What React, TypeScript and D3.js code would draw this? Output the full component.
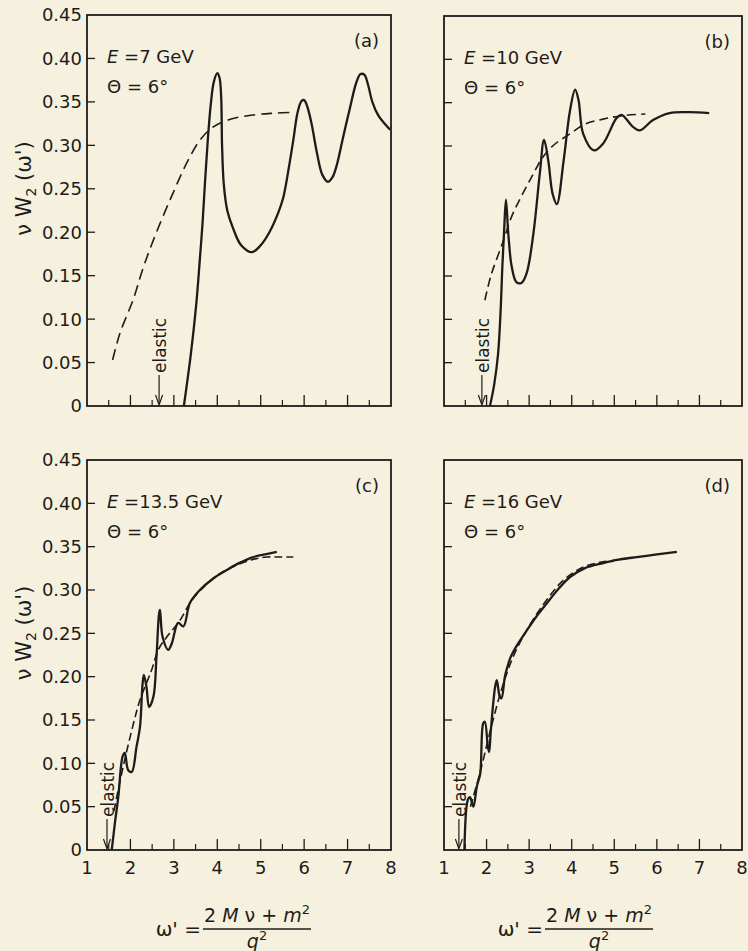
import { useEffect, useRef } from "react";
import * as d3 from "d3";

type Pt = [number, number];

// axis ticks
const yTicks = [0, 0.05, 0.1, 0.15, 0.2, 0.25, 0.3, 0.35, 0.4, 0.45];
const yTickLabels = ["0", "0.05", "0.10", "0.15", "0.20", "0.25", "0.30", "0.35", "0.40", "0.45"];
const xTicks = [1, 2, 3, 4, 5, 6, 7, 8];
const xMinorTicks = [1.5, 2.5, 3.5, 4.5, 5.5, 6.5, 7.5];

// (a) E = 7 GeV
const solidA: Pt[] = [
  [3.23, 0], [3.3, 0.025], [3.38, 0.055], [3.46, 0.09], [3.53, 0.125], [3.6, 0.17],
  [3.66, 0.21], [3.72, 0.26], [3.78, 0.305], [3.85, 0.347], [3.92, 0.373], [4.0, 0.383],
  [4.05, 0.378], [4.09, 0.355], [4.11, 0.3], [4.15, 0.255], [4.23, 0.225], [4.36, 0.205],
  [4.55, 0.185], [4.8, 0.177], [5.0, 0.185], [5.2, 0.2], [5.4, 0.222], [5.52, 0.24],
  [5.65, 0.275], [5.75, 0.306], [5.85, 0.338], [5.94, 0.351], [6.0, 0.352], [6.07, 0.345],
  [6.17, 0.325], [6.3, 0.29], [6.42, 0.266], [6.55, 0.258], [6.65, 0.263], [6.75, 0.277],
  [6.9, 0.31], [7.06, 0.344], [7.2, 0.372], [7.3, 0.382], [7.39, 0.381], [7.47, 0.37],
  [7.57, 0.35], [7.7, 0.335], [7.85, 0.325], [7.98, 0.318],
];
const dashedA: Pt[] = [
  [1.59, 0.053], [1.76, 0.084], [2.06, 0.122], [2.3, 0.16], [2.6, 0.2], [2.98, 0.245],
  [3.3, 0.28], [3.6, 0.306], [3.9, 0.321], [4.3, 0.33], [4.83, 0.335], [5.3, 0.337],
  [5.75, 0.338],
];

// (b) E = 10 GeV
const solidB: Pt[] = [
  [2.08, 0], [2.18, 0.025], [2.27, 0.06], [2.33, 0.11], [2.37, 0.16], [2.41, 0.2],
  [2.455, 0.238], [2.51, 0.199], [2.59, 0.161], [2.7, 0.143], [2.82, 0.142], [2.94, 0.153],
  [3.1, 0.199], [3.25, 0.268], [3.35, 0.307], [3.45, 0.283], [3.55, 0.245], [3.65, 0.233],
  [3.81, 0.283], [3.96, 0.341], [4.08, 0.365], [4.16, 0.353], [4.27, 0.314], [4.52, 0.295],
  [4.74, 0.303], [5.05, 0.332], [5.17, 0.336], [5.44, 0.322], [5.6, 0.318], [5.91, 0.33],
  [6.3, 0.338], [6.77, 0.339], [7.23, 0.338],
];
const dashedB: Pt[] = [
  [1.96, 0.122], [2.1, 0.15], [2.39, 0.19], [2.6, 0.22], [2.85, 0.245], [3.1, 0.268],
  [3.32, 0.287], [3.6, 0.302], [3.96, 0.314], [4.3, 0.325], [4.74, 0.331], [5.2, 0.335],
  [5.73, 0.337],
];

// (c) E = 13.5 GeV
const solidC: Pt[] = [
  [1.57, 0], [1.64, 0.03], [1.72, 0.061], [1.82, 0.108], [1.87, 0.112], [1.95, 0.092],
  [2.03, 0.09], [2.14, 0.119], [2.22, 0.142], [2.28, 0.192], [2.31, 0.202], [2.37, 0.188],
  [2.43, 0.165], [2.53, 0.177], [2.6, 0.223], [2.66, 0.273], [2.68, 0.277], [2.74, 0.246],
  [2.87, 0.231], [2.95, 0.238], [3.1, 0.262], [3.22, 0.258], [3.37, 0.285], [3.6, 0.3],
  [3.9, 0.313], [4.22, 0.323], [4.5, 0.331], [4.83, 0.338], [5.1, 0.341], [5.37, 0.344],
];
const dashedC: Pt[] = [
  [1.62, 0.045], [1.68, 0.06], [1.85, 0.1], [2.07, 0.146], [2.22, 0.173], [2.49, 0.208],
  [2.64, 0.231], [2.84, 0.246], [3.14, 0.265], [3.37, 0.285], [3.6, 0.299], [4.0, 0.317],
  [4.37, 0.327], [4.8, 0.335], [5.14, 0.338], [5.45, 0.338], [5.75, 0.338],
];

// (d) E = 16 GeV
const solidD: Pt[] = [
  [1.48, 0], [1.56, 0.058], [1.61, 0.061], [1.69, 0.05], [1.77, 0.073], [1.85, 0.088],
  [1.92, 0.146], [1.96, 0.148], [2.03, 0.119], [2.06, 0.113], [2.1, 0.138], [2.2, 0.188],
  [2.24, 0.196], [2.31, 0.177], [2.35, 0.175], [2.43, 0.2], [2.5, 0.213], [2.56, 0.222],
  [2.7, 0.235], [2.9, 0.25], [3.15, 0.268], [3.42, 0.285], [3.7, 0.302], [3.96, 0.315],
  [4.3, 0.325], [4.74, 0.331], [5.1, 0.335], [5.53, 0.338], [6.0, 0.341], [6.47, 0.344],
];
const dashedD: Pt[] = [
  [1.62, 0.05], [1.85, 0.09], [2.1, 0.14], [2.35, 0.185], [2.6, 0.22], [2.9, 0.25],
  [3.3, 0.281], [3.8, 0.311], [4.3, 0.327], [4.8, 0.333], [5.3, 0.336],
];

const panels = [
  { tag: "(a)", energy: "=7 GeV", solid: solidA, dashed: dashedA, elastic: 2.66,
    box: { l: 87, r: 391, t: 15, b: 406 }, yLabels: true, xLabels: false, dash: "11,6", titleX: 0 },
  { tag: "(b)", energy: "=10 GeV", solid: solidB, dashed: dashedB, elastic: 1.89,
    box: { l: 444, r: 742, t: 16, b: 406 }, yLabels: false, xLabels: false, dash: "9,5", titleX: 0 },
  { tag: "(c)", energy: "=13.5 GeV", solid: solidC, dashed: dashedC, elastic: 1.46,
    box: { l: 87, r: 391, t: 460, b: 850 }, yLabels: true, xLabels: true, dash: "8,4", titleX: 257 },
  { tag: "(d)", energy: "=16 GeV", solid: solidD, dashed: dashedD, elastic: 1.35,
    box: { l: 444, r: 742, t: 460, b: 850 }, yLabels: false, xLabels: true, dash: "8,4", titleX: 599 },
];

const W = 748;
const H = 951;
const ink = "#1d1c1a";
const paper = "#f6f1de";
const font = "'DejaVu Sans', sans-serif";

const App = () => {
  const svgRef = useRef<SVGSVGElement | null>(null);

  useEffect(() => {
    document.body.style.margin = "0";
    const svg = d3.select(svgRef.current);
    svg.selectAll("*").remove();

    svg.append("rect").attr("width", W).attr("height", H).attr("fill", paper);

    panels.forEach((p) => {
      const { l, r, t, b } = p.box;
      const x = d3.scaleLinear().domain([1, 8]).range([l, r]);
      const y = d3.scaleLinear().domain([0, 0.45]).range([b, t]);
      const g = svg.append("g");

      // frame
      g.append("rect")
        .attr("x", l).attr("y", t).attr("width", r - l).attr("height", b - t)
        .attr("fill", "none").attr("stroke", ink).attr("stroke-width", 1.8);

      // y ticks (inside)
      g.selectAll(".yt").data(yTicks.slice(1, -1)).enter().append("line")
        .attr("x1", l).attr("x2", l + 8)
        .attr("y1", (d) => y(d)).attr("y2", (d) => y(d))
        .attr("stroke", ink).attr("stroke-width", 1.3);

      // x ticks (inside)
      g.selectAll(".xt").data(xTicks.slice(1, -1)).enter().append("line")
        .attr("x1", (d) => x(d)).attr("x2", (d) => x(d))
        .attr("y1", b).attr("y2", b - 11)
        .attr("stroke", ink).attr("stroke-width", 1.3);
      g.selectAll(".xm").data(xMinorTicks).enter().append("line")
        .attr("x1", (d) => x(d)).attr("x2", (d) => x(d))
        .attr("y1", b).attr("y2", b - 6)
        .attr("stroke", ink).attr("stroke-width", 1.2);

      if (p.yLabels) {
        g.selectAll(".yl").data(yTicks).enter().append("text")
          .attr("x", l - 5).attr("y", (d) => y(d)).attr("dy", "0.36em")
          .attr("text-anchor", "end").attr("font-family", font).attr("font-size", 18)
          .attr("fill", ink)
          .text((d, i) => yTickLabels[i]);

        const yl = g.append("text")
          .attr("transform", `translate(24,${(t + b) / 2 - 22}) rotate(-90)`)
          .attr("text-anchor", "middle").attr("dy", "0.35em")
          .attr("font-family", font).attr("font-size", 21).attr("fill", ink);
        yl.append("tspan").text("ν W");
        yl.append("tspan").attr("font-size", 14).attr("dy", 5).text("2");
        yl.append("tspan").attr("dy", -5).text(" (ω')");
      }

      if (p.xLabels) {
        g.selectAll(".xl").data(xTicks).enter().append("text")
          .attr("x", (d) => x(d)).attr("y", b + 24)
          .attr("text-anchor", "middle").attr("font-family", font).attr("font-size", 18)
          .attr("fill", ink)
          .text((d) => String(d));

        // x title: omega' = (2M nu + m^2) / q^2
        const cx = p.titleX;
        g.append("text")
          .attr("x", cx - 56).attr("y", 929).attr("dy", "0.35em")
          .attr("text-anchor", "end").attr("font-family", font).attr("font-size", 20)
          .attr("fill", ink).text("ω' =");
        const num = g.append("text")
          .attr("x", cx).attr("y", 922)
          .attr("text-anchor", "middle").attr("font-family", font).attr("font-size", 19)
          .attr("fill", ink);
        num.append("tspan").text("2 ");
        num.append("tspan").attr("font-style", "italic").text("M");
        num.append("tspan").text(" ν + ");
        num.append("tspan").attr("font-style", "italic").text("m");
        num.append("tspan").attr("font-size", 13).attr("dy", -8).text("2");
        g.append("line")
          .attr("x1", cx - 54).attr("x2", cx + 54).attr("y1", 929).attr("y2", 929)
          .attr("stroke", ink).attr("stroke-width", 1.3);
        const den = g.append("text")
          .attr("x", cx).attr("y", 948)
          .attr("text-anchor", "middle").attr("font-family", font).attr("font-size", 19)
          .attr("fill", ink);
        den.append("tspan").attr("font-style", "italic").text("q");
        den.append("tspan").attr("font-size", 13).attr("dy", -8).text("2");
      }

      // panel annotations
      g.append("text")
        .attr("x", r - 12).attr("y", t + 32)
        .attr("text-anchor", "end").attr("font-family", font).attr("font-size", 18)
        .attr("fill", ink).text(p.tag);
      const e = g.append("text")
        .attr("x", l + 20).attr("y", t + 48)
        .attr("font-family", font).attr("font-size", 18).attr("fill", ink);
      e.append("tspan").attr("font-style", "italic").text("E");
      e.append("tspan").text(" " + p.energy);
      g.append("text")
        .attr("x", l + 20).attr("y", t + 78)
        .attr("font-family", font).attr("font-size", 18).attr("fill", ink)
        .text("Θ = 6°");

      // elastic marker
      const ex = x(p.elastic);
      g.append("line")
        .attr("x1", ex).attr("x2", ex).attr("y1", b - 31).attr("y2", b - 2)
        .attr("stroke", ink).attr("stroke-width", 1.2);
      g.append("path")
        .attr("d", `M${ex - 3.5},${b - 11} L${ex},${b - 1} L${ex + 3.5},${b - 11}`)
        .attr("fill", "none").attr("stroke", ink).attr("stroke-width", 1.2);
      g.append("text")
        .attr("transform", `translate(${ex + 1},${b - 33}) rotate(-90)`)
        .attr("dy", "0.36em").attr("font-family", font).attr("font-size", 17)
        .attr("fill", ink).text("elastic");

      const line = d3.line<Pt>()
        .x((d) => x(d[0]))
        .y((d) => y(d[1]))
        .curve(d3.curveCatmullRom.alpha(0.5));

      g.append("path")
        .attr("d", line(p.dashed))
        .attr("fill", "none").attr("stroke", ink).attr("stroke-width", 1.6)
        .attr("stroke-dasharray", p.dash);

      g.append("path")
        .attr("d", line(p.solid))
        .attr("fill", "none").attr("stroke", ink).attr("stroke-width", 2.3)
        .attr("stroke-linejoin", "round");
    });
  }, []);

  return <svg ref={svgRef} width={W} height={H} style={{ display: "block" }} />;
};

export default App;
